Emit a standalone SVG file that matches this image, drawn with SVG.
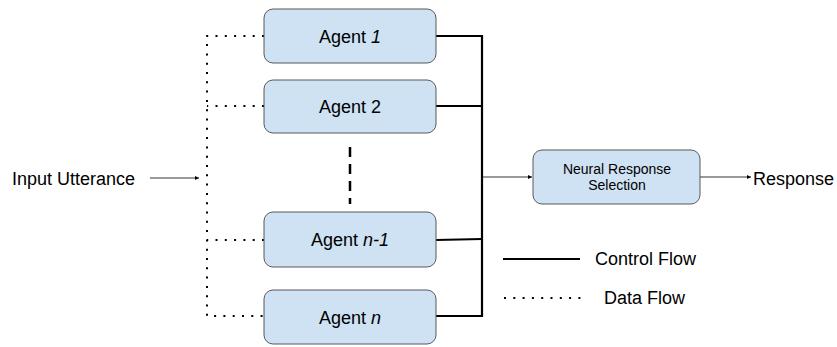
<svg xmlns="http://www.w3.org/2000/svg" width="837" height="347" viewBox="0 0 837 347">
<defs>
<style>
.box{fill:#cfe2f3;stroke:#595959;stroke-width:1}
.t{font-family:"Liberation Sans",Arial,sans-serif;font-size:18px;fill:#000}
.s{font-family:"Liberation Sans",Arial,sans-serif;font-size:14px;fill:#000}
.ctl{stroke:#000;stroke-width:2.2;fill:none}
.dat{stroke:#000;stroke-width:2;fill:none;stroke-dasharray:2 7.3}
.thin{stroke:#000;stroke-width:0.8;fill:none}
</style>
<marker id="ah" viewBox="0 0 6 6" refX="6" refY="3" markerWidth="4" markerHeight="4" orient="auto" markerUnits="userSpaceOnUse">
<path d="M0,0 L6,3 L0,6 z" fill="#000"/>
</marker>
</defs>
<rect width="837" height="347" fill="#fff"/>
<g id="connectors">
<path class="dat" d="M264,36 H207 V316 H264"/>
<path class="dat" d="M264,106 H207"/>
<path class="dat" d="M264,240 H207"/>
<path class="ctl" d="M436,36 H482 V316 H436"/>
<path class="ctl" d="M436,106 H482"/>
<path class="ctl" d="M436,240 L482,239"/>
<path d="M350,147 V204" stroke="#000" stroke-width="2.5" stroke-dasharray="10 7"/>
<path class="thin" d="M150,178 H199" marker-end="url(#ah)"/>
<path class="thin" d="M482,177 H532" marker-end="url(#ah)"/>
<path class="thin" d="M700,177 H751" marker-end="url(#ah)"/>
</g>
<g id="input"><text class="t" x="12" y="184.5">Input Utterance</text></g>
<g id="agent1"><rect class="box" x="264" y="9" width="172" height="54" rx="9"/><text class="t" x="350" y="43" text-anchor="middle">Agent <tspan font-style="italic">1</tspan></text></g>
<g id="agent2"><rect class="box" x="264" y="80" width="172" height="53" rx="9"/><text class="t" x="350" y="113" text-anchor="middle">Agent 2</text></g>
<g id="agentn1"><rect class="box" x="264" y="212" width="172" height="55" rx="9"/><text class="t" x="350" y="246" text-anchor="middle">Agent <tspan font-style="italic">n-1</tspan></text></g>
<g id="agentn"><rect class="box" x="264" y="290" width="172" height="54" rx="9"/><text class="t" x="350" y="324" text-anchor="middle">Agent <tspan font-style="italic">n</tspan></text></g>
<g id="nrs"><rect class="box" x="533" y="150" width="167" height="54" rx="9"/><text class="s" x="617" y="173.5" text-anchor="middle">Neural Response</text><text class="s" x="617" y="190" text-anchor="middle">Selection</text></g>
<g id="response"><text class="t" x="753" y="185">Response</text></g>
<g id="legend">
<path class="ctl" d="M503,259 H580"/>
<text class="t" x="595" y="264.5">Control Flow</text>
<path class="dat" d="M504,298 H582"/>
<text class="t" x="604" y="304">Data Flow</text>
</g>
</svg>
